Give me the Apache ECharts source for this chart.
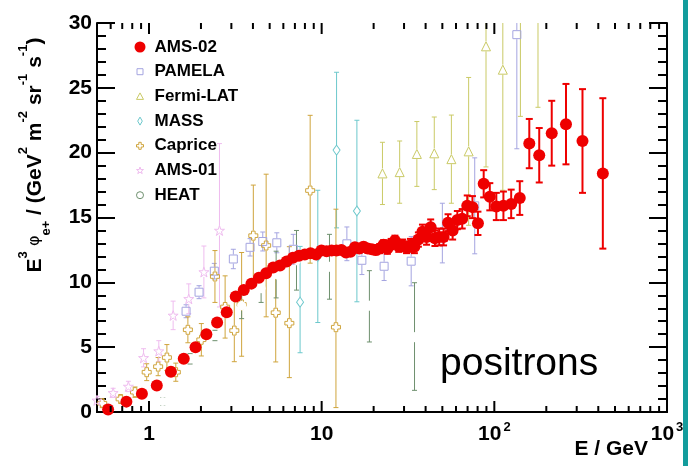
<!DOCTYPE html>
<html>
<head>
<meta charset="utf-8">
<script src="https://cdn.jsdelivr.net/npm/echarts@6/dist/echarts.min.js"></script>
<style>
html, body { margin: 0; padding: 0; background: #ffffff; }
#chart { width: 688px; height: 466px; }
</style>
</head>
<body>
<div id="chart"></div>
<script>
// Positron flux multiplied by E^3, in GeV^2 m^-2 sr^-1 s^-1, versus energy E in GeV.
// Each experiment: energies, values, lower error, upper error.

const ams02E = [0.58, 0.74, 0.91, 1.11, 1.34, 1.59, 1.86, 2.15, 2.48, 2.82,
  3.18, 3.54, 3.92, 4.33, 4.77, 5.24, 5.74, 6.27, 6.82, 7.39,
  7.99, 8.62, 9.28, 9.97, 10.68, 11.42, 12.19, 13.0, 13.83, 14.69,
  15.59, 16.52, 17.49, 18.48, 19.51, 20.58, 21.69, 22.83, 24.02, 25.26,
  26.57, 27.96, 29.44, 31.01, 32.67, 34.44, 36.33, 38.35, 40.5, 42.8,
  45.28, 47.95, 50.83, 53.95, 57.35, 61.07, 65.16, 69.68, 74.71, 80.37,
  86.77, 94.14, 102.7, 112.9, 125.2, 140.4, 159.4, 182.0, 215.0, 260.0,
  324.0, 425.0];
const ams02V = [0.2, 0.8, 1.4, 2.05, 3.1, 4.1, 5.0, 6.0, 6.9, 7.7,
  8.9, 9.4, 9.9, 10.35, 10.7, 11.15, 11.3, 11.6, 11.9, 12.05,
  12.15, 12.25, 12.15, 12.45, 12.4, 12.45, 12.45, 12.5, 12.3, 12.35,
  12.7, 12.6, 12.75, 12.6, 12.55, 12.5, 12.6, 12.9, 12.6, 12.95,
  13.2, 12.8, 12.85, 12.7, 12.85, 12.75, 13.3, 13.9, 13.5, 14.25,
  13.4, 13.5, 13.5, 14.6, 14.0, 14.8, 14.9, 15.9, 15.8, 14.55,
  17.6, 16.6, 15.85, 15.9, 16.05, 16.5, 20.7, 19.8, 21.5, 22.2,
  20.9, 18.4];
const ams02Err = [0.05, 0.05, 0.05, 0.05, 0.08, 0.1, 0.1, 0.1, 0.1, 0.1,
  0.1, 0.1, 0.1, 0.1, 0.12, 0.12, 0.12, 0.15, 0.15, 0.15,
  0.15, 0.2, 0.2, 0.2, 0.2, 0.2, 0.2, 0.25, 0.25, 0.25,
  0.25, 0.3, 0.3, 0.3, 0.3, 0.35, 0.35, 0.35, 0.4, 0.4,
  0.4, 0.45, 0.45, 0.45, 0.5, 0.5, 0.55, 0.55, 0.6, 0.6,
  0.6, 0.65, 0.65, 0.65, 0.7, 0.7, 0.75, 0.8, 0.85, 0.9,
  1.05, 1.05, 1.05, 1.1, 1.1, 1.3, 1.9, 2.1, 2.5, 3.1,
  4.0, 5.8];

const pamelaE = [1.64, 1.95, 2.39, 3.08, 3.85, 4.56, 5.5, 6.85, 14.0, 17.1, 23.0, 33.0, 50.0, 77.0, 135.0];
const pamelaV = [7.77, 9.24, 10.86, 11.8, 12.7, 13.15, 13.05, 12.55, 12.97, 11.7, 11.24, 11.63, 13.8, 15.9, 29.1];
const pamelaErr = [0.5, 0.5, 0.6, 0.75, 0.67, 0.73, 0.77, 1.15, 1.3, 1.1, 1.1, 1.9, 2.3, 3.7, 8.8];

const fermiE = [22.5, 28.3, 35.6, 44.9, 56.4, 71.0, 89.5, 112.0, 141.6, 179.0];
const fermiV = [18.4, 18.5, 19.9, 19.95, 19.5, 20.1, 28.2, 26.4, 33.0, 34.0];
const fermiErr = [2.4, 2.4, 2.5, 2.8, 3.4, 5.7, 9.3, 9.3, 10.2, 10.5];

const massE = [7.5, 9.5, 12.2, 16.0];
const massV = [8.47, 12.0, 20.2, 15.5];
const massLo = [3.9, 5.1, 6.0, 7.0];
const massHi = [4.3, 5.1, 6.0, 7.0];

const capriceE = [0.536, 0.685, 0.83, 0.97, 1.13, 1.27, 1.43, 1.68, 2.01, 2.41, 2.76, 3.12, 3.44, 4.02, 4.77, 5.42, 6.5, 8.58, 12.1];
const capriceV = [0.68, 1.0, 1.53, 3.07, 3.5, 4.2, 3.07, 6.34, 5.57, 10.45, 8.1, 6.28, 8.3, 13.6, 12.84, 7.66, 6.85, 17.08, 6.54];
const capriceLo = [0.3, 0.3, 0.4, 0.65, 0.7, 1.0, 0.7, 1.0, 1.25, 2.0, 2.4, 2.4, 4.0, 3.9, 5.5, 3.8, 4.2, 5.6, 6.2];
const capriceHi = [0.3, 0.3, 0.4, 0.65, 0.7, 1.0, 0.7, 1.0, 1.25, 2.0, 2.4, 2.4, 4.0, 3.9, 5.5, 3.8, 5.9, 5.8, 9.1];

const ams01E = [0.5, 0.62, 0.76, 0.93, 1.14, 1.38, 1.7, 2.08, 2.56];
const ams01V = [0.9, 1.48, 1.97, 4.18, 4.7, 7.45, 8.73, 10.8, 14.0];
const ams01Lo = [0.3, 0.35, 0.4, 0.7, 0.8, 1.1, 1.15, 2.0, 5.9];
const ams01Hi = [0.3, 0.35, 0.4, 0.7, 0.8, 1.1, 1.15, 2.0, 6.7];

const heatE = [1.2, 1.73, 2.41, 3.44, 4.46, 5.45, 7.15, 11.1, 18.9, 34.5];
const heatV = [0.81, 4.1, 5.9, 8.2, 9.55, 10.6, 11.7, 11.2, 8.2, 5.77];
const heatLo = [0.3, 0.4, 0.4, 1.0, 1.1, 1.8, 2.3, 2.5, 2.8, 4.1];
const heatHi = [0.3, 0.4, 0.4, 1.0, 1.1, 1.8, 2.3, 2.5, 2.7, 4.2];

// Axis ticks and labels
const xMajorTicks = [1, 10, 100, 1000];
const xMinorTicks = [0.6, 0.7, 0.8, 0.9, 2, 3, 4, 5, 6, 7, 8, 9, 20, 30, 40, 50, 60, 70, 80, 90,
  200, 300, 400, 500, 600, 700, 800, 900];
const xTickLabels = { 1: '{n|1}', 10: '{n|10}', 100: '{n|10}{s|2}', 1000: '{n|10}{s|3}' };
const yMin = 0, yMax = 30, yStep = 5;

const FONT = 'Liberation Sans, Arial, Helvetica, sans-serif';

// Marker shapes (plot) and padded legend icons (smaller glyph inside an 11x11 box)
const PATH_CROSS = 'path://M3,0 L7,0 L7,3 L10,3 L10,7 L7,7 L7,10 L3,10 L3,7 L0,7 L0,3 L3,3 Z';
const PATH_STAR = 'path://M50,0 L61.8,35.5 L99,35.5 L69,57.5 L80.5,93 L50,71 L19.5,93 L31,57.5 L1,35.5 L38.2,35.5 Z';
const ICON_RECT = 'path://M0,0 M11,11 M2.5,2.5 L8.5,2.5 L8.5,8.5 L2.5,8.5 Z';
const ICON_TRI = 'path://M0,0 M11,11 M5.5,2 L9,8.5 L2,8.5 Z';
const ICON_DIAMOND = 'path://M0,0 M11,11 M5.5,1.5 L7.8,5.5 L5.5,9.5 L3.2,5.5 Z';
const ICON_CROSS = 'path://M0,0 M11,11 M4.3,2 L6.7,2 L6.7,4.3 L9,4.3 L9,6.7 L6.7,6.7 L6.7,9 L4.3,9 L4.3,6.7 L2,6.7 L2,4.3 L4.3,4.3 Z';
const ICON_STAR = 'path://M0,0 M11,11 M5.5,2 L6.3,4.5 L9,4.5 L6.9,6.1 L7.7,8.6 L5.5,7.1 L3.3,8.6 L4.1,6.1 L2,4.5 L4.7,4.5 Z';
const ICON_CIRCLE = 'path://M0,0 M11,11 M9,5.5 A3.5,3.5 0 1 1 2,5.5 A3.5,3.5 0 1 1 9,5.5 Z';

const experiments = [
  { name: 'AMS-02', E: ams02E, V: ams02V, lo: ams02Err, hi: ams02Err, color: '#ee0000',
    symbol: 'circle', icon: 'circle', size: 12, filled: true, barWidth: 2, cap: 3.5, gap: 0, z: 10 },
  { name: 'PAMELA', E: pamelaE, V: pamelaV, lo: pamelaErr, hi: pamelaErr, color: '#a4a4e0',
    symbol: 'rect', icon: ICON_RECT, size: 8, filled: false, barWidth: 1, cap: 2.5, gap: 4.5, z: 5 },
  { name: 'Fermi-LAT', E: fermiE, V: fermiV, lo: fermiErr, hi: fermiErr, color: '#caca66',
    symbol: 'triangle', icon: ICON_TRI, size: 9, filled: false, barWidth: 1, cap: 2.5, gap: 5, z: 5 },
  { name: 'MASS', E: massE, V: massV, lo: massLo, hi: massHi, color: '#6cc8cc',
    symbol: 'diamond', icon: ICON_DIAMOND, size: [7, 10], filled: false, barWidth: 1, cap: 2.5, gap: 5, z: 5 },
  { name: 'Caprice', E: capriceE, V: capriceV, lo: capriceLo, hi: capriceHi, color: '#cfa43c',
    symbol: PATH_CROSS, icon: ICON_CROSS, size: 9, filled: false, barWidth: 1, cap: 2.5, gap: 5, z: 5 },
  { name: 'AMS-01', E: ams01E, V: ams01V, lo: ams01Lo, hi: ams01Hi, color: '#efbcef',
    symbol: PATH_STAR, icon: ICON_STAR, size: 10, filled: false, barWidth: 1, cap: 2.5, gap: 5, z: 5 },
  { name: 'HEAT', E: heatE, V: heatV, lo: heatLo, hi: heatHi, color: '#6e906e',
    symbol: 'emptyCircle', icon: ICON_CIRCLE, size: 9, filled: false, barWidth: 1, cap: 2.5, gap: 5, z: 5 }
];

// Vertical error bar with end caps; leaves a gap around hollow markers.
function errorBarRenderer(color, lineWidth, cap, gap) {
  return function (params, api) {
    const x = api.value(0), y = api.value(1), lo = api.value(2), hi = api.value(3);
    const c = api.coord([x, y]);
    const top = api.coord([x, y + hi])[1];
    const bot = api.coord([x, y - lo])[1];
    const st = { stroke: color, lineWidth: lineWidth };
    const kids = [];
    if (c[1] - gap > top) {
      kids.push({ type: 'line', shape: { x1: c[0], y1: top, x2: c[0], y2: c[1] - gap }, style: st });
    }
    if (bot > c[1] + gap) {
      kids.push({ type: 'line', shape: { x1: c[0], y1: c[1] + gap, x2: c[0], y2: bot }, style: st });
    }
    kids.push({ type: 'line', shape: { x1: c[0] - cap, y1: top, x2: c[0] + cap, y2: top }, style: st });
    kids.push({ type: 'line', shape: { x1: c[0] - cap, y1: bot, x2: c[0] + cap, y2: bot }, style: st });
    return { type: 'group', children: kids };
  };
}

// Log-axis ticks drawn inward from the bottom and top frame lines.
function xTickRenderer(len) {
  return function (params, api) {
    const cs = params.coordSys;
    const x = api.coord([api.value(0), 1])[0];
    const st = { stroke: '#000', lineWidth: 2 };
    const yb = cs.y + cs.height, yt = cs.y;
    return {
      type: 'group',
      children: [
        { type: 'line', shape: { x1: x, y1: yb, x2: x, y2: yb - len }, style: st },
        { type: 'line', shape: { x1: x, y1: yt, x2: x, y2: yt + len }, style: st }
      ]
    };
  };
}

const series = [];
experiments.forEach(function (ex) {
  const pts = ex.E.map(function (e, i) { return [e, ex.V[i], ex.lo[i], ex.hi[i]]; });
  series.push({
    name: ex.name,
    type: 'custom',
    renderItem: errorBarRenderer(ex.color, ex.barWidth, ex.cap, ex.gap),
    data: pts,
    clip: true,
    silent: true,
    z: ex.z,
    encode: { x: 0, y: 1 }
  });
  series.push({
    name: ex.name,
    type: 'scatter',
    data: pts.map(function (p) { return [p[0], p[1]]; }),
    symbol: ex.symbol,
    symbolSize: ex.size,
    clip: true,
    z: ex.z + 1,
    itemStyle: ex.filled
      ? { color: ex.color, opacity: 1 }
      : { color: 'rgba(255,255,255,0)', borderColor: ex.color, borderWidth: 1, opacity: 1 },
    emphasis: { disabled: true }
  });
});
series.push({
  type: 'custom', renderItem: xTickRenderer(11), data: xMajorTicks.map(function (v) { return [v, 1]; }),
  clip: false, silent: true, z: 20
});
series.push({
  type: 'custom', renderItem: xTickRenderer(6), data: xMinorTicks.map(function (v) { return [v, 1]; }),
  clip: false, silent: true, z: 20
});

const axisLineStyle = { show: true, lineStyle: { color: '#000', width: 2 } };

const chart = echarts.init(document.getElementById('chart'), null, { renderer: 'canvas' });
chart.setOption({
  animation: false,
  backgroundColor: '#ffffff',
  grid: { left: 97, top: 23, width: 570, height: 389 },
  legend: {
    orient: 'vertical',
    left: 129,
    top: 33,
    itemWidth: 11,
    itemHeight: 11,
    itemGap: 6.7,
    selectedMode: false,
    textStyle: { fontFamily: FONT, fontWeight: 'bold', fontSize: 17, color: '#000', lineHeight: 18, padding: [0, 0, 0, 4] },
    data: experiments.map(function (ex) {
      return {
        name: ex.name,
        icon: ex.icon,
        itemStyle: ex.filled
          ? { color: ex.color, borderWidth: 0 }
          : { color: 'rgba(255,255,255,0)', borderColor: ex.color, borderWidth: 1 }
      };
    })
  },
  xAxis: [
    {
      type: 'log', logBase: 10, min: 0.5, max: 1000,
      axisLine: axisLineStyle,
      axisTick: { show: false },
      splitLine: { show: false },
      axisLabel: {
        margin: 9,
        showMinLabel: false,
        formatter: function (v) { return xTickLabels[Math.round(v)] || ''; },
        rich: {
          n: { fontFamily: FONT, fontWeight: 'bold', fontSize: 21, color: '#000', lineHeight: 24, verticalAlign: 'bottom' },
          s: { fontFamily: FONT, fontWeight: 'bold', fontSize: 13, color: '#000', lineHeight: 24, verticalAlign: 'top', padding: [0, 0, 0, 2] }
        }
      }
    },
    {
      type: 'log', logBase: 10, min: 0.5, max: 1000, position: 'top',
      axisLine: axisLineStyle, axisTick: { show: false }, axisLabel: { show: false }, splitLine: { show: false }
    }
  ],
  yAxis: [
    {
      type: 'value', min: yMin, max: yMax, interval: yStep,
      axisLine: axisLineStyle,
      axisTick: { show: true, inside: true, length: 18, lineStyle: { color: '#000', width: 2 } },
      minorTick: { show: true, splitNumber: 5, length: 9, lineStyle: { color: '#000', width: 2 } },
      splitLine: { show: false },
      axisLabel: { margin: 5, color: '#000', fontFamily: FONT, fontWeight: 'bold', fontSize: 21 }
    },
    {
      type: 'value', min: yMin, max: yMax, interval: yStep, position: 'right',
      axisLine: axisLineStyle,
      axisTick: { show: true, inside: true, length: 18, lineStyle: { color: '#000', width: 2 } },
      minorTick: { show: true, splitNumber: 5, length: 9, lineStyle: { color: '#000', width: 2 } },
      splitLine: { show: false },
      axisLabel: { show: false }
    }
  ],
  graphic: [
    {
      type: 'text', x: 35, y: 155, rotation: Math.PI / 2,
      style: {
        text: '{b|E}{p|3}{f| φ}{q|e+}{b| / (GeV}{p|2}{b| m}{p|-2}{b| sr}{p|-1}{b| s}{p|-1}{b|)}',
        align: 'center', verticalAlign: 'middle',
        rich: {
          b: { fontFamily: FONT, fontWeight: 'bold', fontSize: 21, fill: '#000', lineHeight: 36, verticalAlign: 'middle' },
          f: { fontFamily: 'DejaVu Sans, sans-serif', fontSize: 16, fill: '#000', lineHeight: 36, verticalAlign: 'middle' },
          p: { fontFamily: FONT, fontWeight: 'bold', fontSize: 13, fill: '#000', lineHeight: 17, verticalAlign: 'top' },
          q: { fontFamily: FONT, fontWeight: 'bold', fontSize: 13, fill: '#000', lineHeight: 17, verticalAlign: 'bottom' }
        }
      }
    },
    {
      type: 'text', right: 40, top: 439,
      style: { text: 'E / GeV', fontFamily: FONT, fontWeight: 'bold', fontSize: 21, fill: '#000' }
    },
    {
      type: 'text', left: 440, top: 345,
      style: { text: 'positrons', fontFamily: FONT, fontSize: 39, fill: '#000' }
    },
    {
      type: 'rect', right: 0, top: 0, shape: { width: 5, height: 466 }, style: { fill: '#139c9c' }
    }
  ],
  series: series
});
</script>
</body>
</html>
